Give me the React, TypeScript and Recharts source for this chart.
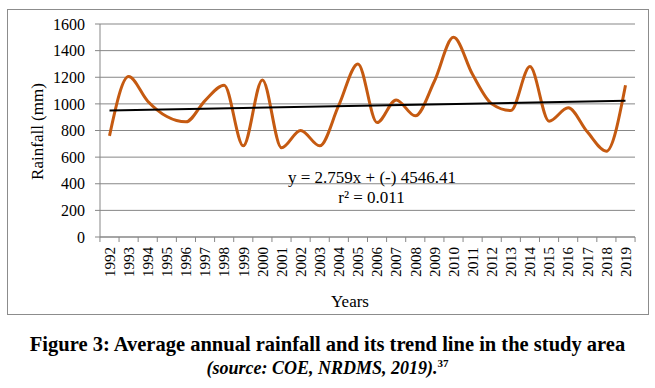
import React from "react";
import {
  CartesianGrid,
  Customized,
  Line,
  LineChart,
  ReferenceLine,
  XAxis,
  YAxis,
} from "recharts";

const years = [
  "1992", "1993", "1994", "1995", "1996", "1997", "1998", "1999", "2000", "2001",
  "2002", "2003", "2004", "2005", "2006", "2007", "2008", "2009", "2010", "2011",
  "2012", "2013", "2014", "2015", "2016", "2017", "2018", "2019",
];

const rainfall = [
  760, 1205, 1020, 905, 865, 1025, 1140, 685, 1180, 670,
  800, 685, 990, 1300, 860, 1030, 910, 1170, 1500, 1220,
  1000, 950, 1280, 870, 970, 790, 645, 1140,
];

const yTicks = [0, 200, 400, 600, 800, 1000, 1200, 1400, 1600];

// trend line end values, read at 1992 and 2019
const trendStart = 949.5;
const trendEnd = 1024;

const data = years.map((year, i) => ({ year, rain: rainfall[i] }));

const FONT = "'Liberation Serif', 'Times New Roman', serif";
const GRID = "#878787";
const HALF_BAND = 9.56;

function YearTick(props: any) {
  const { x, y, payload, index } = props;
  const last = index === years.length - 1;
  return (
    <g>
      <line x1={x - HALF_BAND} y1={y} x2={x - HALF_BAND} y2={y + 5} stroke={GRID} />
      {last && (
        <line x1={x + HALF_BAND} y1={y} x2={x + HALF_BAND} y2={y + 5} stroke={GRID} />
      )}
      <text
        x={x}
        y={y + 10}
        transform={`rotate(-90 ${x} ${y + 10})`}
        textAnchor="end"
        dy="0.35em"
        fontSize={15}
        fontFamily={FONT}
        fill="#000"
      >
        {payload.value}
      </text>
    </g>
  );
}

function Annotations() {
  return (
    <g fontFamily={FONT} fill="#000">
      <text
        x={29}
        y={121.5}
        transform="rotate(-90 29 121.5)"
        textAnchor="middle"
        dy="0.35em"
        fontSize={17}
      >
        Rainfall (mm)
      </text>
      <text x={342} y={296.5} textAnchor="middle" fontSize={17}>
        Years
      </text>
      <text x={364} y={173} textAnchor="middle" fontSize={17}>
        y = 2.759x + (-) 4546.41
      </text>
      <text x={363.5} y={193} textAnchor="middle" fontSize={17}>
        r² = 0.011
      </text>
    </g>
  );
}

export default function App() {
  return (
    <div
      style={{
        position: "absolute",
        left: 0,
        top: 0,
        width: 655,
        height: 388,
        background: "#fff",
        fontFamily: FONT,
      }}
    >
      <div
        style={{
          position: "absolute",
          left: 7,
          top: 9,
          width: 640,
          height: 304,
          border: "1px solid #8c8c8c",
        }}
      >
        <LineChart
          width={640}
          height={304}
          data={data}
          margin={{ top: 14, right: 13, left: 0, bottom: 0 }}
        >
          <CartesianGrid vertical={false} stroke={GRID} />
          <XAxis
            dataKey="year"
            interval={0}
            height={77}
            padding={{ left: 9.5, right: 9.5 }}
            axisLine={{ stroke: GRID }}
            tickLine={false}
            tickSize={0}
            tickMargin={0}
            tick={<YearTick />}
          />
          <YAxis
            width={92}
            domain={[0, 1600]}
            ticks={yTicks}
            interval={0}
            axisLine={{ stroke: GRID }}
            tickLine={{ stroke: GRID }}
            tickSize={5}
            tickMargin={10}
            tick={{ fill: "#000", fontSize: 16, fontFamily: FONT }}
          />
          <Line
            type="monotone"
            dataKey="rain"
            stroke="#C55A11"
            strokeWidth={3}
            dot={false}
            isAnimationActive={false}
          />
          <ReferenceLine
            segment={[
              { x: years[0], y: trendStart },
              { x: years[years.length - 1], y: trendEnd },
            ]}
            stroke="#000"
            strokeWidth={2}
          />
          <Customized component={<Annotations />} />
        </LineChart>
      </div>
      <div
        style={{
          position: "absolute",
          left: 0,
          width: 655,
          top: 332,
          lineHeight: "24px",
          textAlign: "center",
          fontWeight: "bold",
          fontSize: 20.5,
        }}
      >
        Figure 3: Average annual rainfall and its trend line in the study area
      </div>
      <div
        style={{
          position: "absolute",
          left: 0,
          width: 655,
          top: 356,
          lineHeight: "24px",
          textAlign: "center",
          fontWeight: "bold",
          fontStyle: "italic",
          fontSize: 18,
        }}
      >
        (source: COE, NRDMS, 2019).
        <sup style={{ fontSize: 11, fontStyle: "normal", verticalAlign: "7px", lineHeight: 0 }}>37</sup>
      </div>
    </div>
  );
}
